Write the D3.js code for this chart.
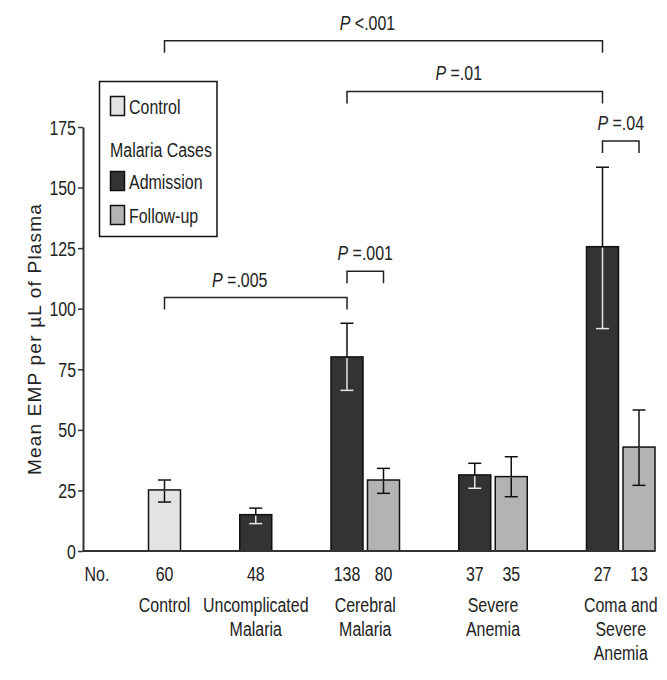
<!DOCTYPE html>
<html>
<head>
<meta charset="utf-8">
<script src="https://cdn.jsdelivr.net/npm/d3@7"></script>
<style>
  body { margin: 0; background: #fff; }
  text { font-family: "Liberation Sans", Arial, sans-serif; fill: #222; }
</style>
</head>
<body>
<svg id="chart" width="667" height="680"></svg>
<script>
// groups along the x axis, with their label lines
const groups = ["Control", "Uncomplicated Malaria", "Cerebral Malaria", "Severe Anemia", "Coma and Severe Anemia"];
const groupLines = [["Control"], ["Uncomplicated", "Malaria"], ["Cerebral", "Malaria"], ["Severe", "Anemia"], ["Coma and", "Severe", "Anemia"]];

// one entry per bar
const barGroup = ["Control", "Uncomplicated Malaria", "Cerebral Malaria", "Cerebral Malaria", "Severe Anemia", "Severe Anemia", "Coma and Severe Anemia", "Coma and Severe Anemia"];
const barSeries = ["Control", "Admission", "Admission", "Follow-up", "Admission", "Follow-up", "Admission", "Follow-up"];
const barN = [60, 48, 138, 80, 37, 35, 27, 13];
const barMean = [25.2, 15.0, 80.1, 29.3, 31.4, 30.7, 125.6, 42.9];
const barLow = [20.2, 11.3, 66.3, 23.8, 25.9, 22.4, 91.8, 27.1];
const barHigh = [29.3, 17.7, 94.0, 34.1, 36.2, 38.9, 158.4, 58.2];

const series = ["Control", "Admission", "Follow-up"];
const yTicks = [0, 25, 50, 75, 100, 125, 150, 175];

// comparisons: bar index from / to and the P label
const pFrom = [0, 2, 2, 0, 6];
const pTo = [6, 6, 3, 2, 7];
const pText = ["<.001", "=.01", "=.001", "=.005", "=.04"];

const svg = d3.select("#chart");

// x runs in "slot" units: one per bar plus a gap between groups
const gapUnits = 1.5;
const lastUnit = (barGroup.length - 1) + (groups.length - 1) * gapUnits;
const x = d3.scaleLinear().domain([0, lastUnit]).range([164.5, 639]);
const y = d3.scaleLinear().domain([0, 175]).range([551, 127]);
const color = d3.scaleOrdinal().domain(series).range(["#e3e3e3", "#333333", "#b3b3b3"]);

const barW = 32;
const squeeze = 0.76; // the figure uses a condensed face

// narrow text: a g that squeezes the glyphs horizontally
function label(parent, px, py, size, anchor) {
    return parent.append("g")
        .attr("transform", `translate(${px},${py}) scale(${squeeze},1)`)
        .append("text")
        .attr("text-anchor", anchor || "middle")
        .attr("font-size", size);
}

const bars = barN.map((n, i) => {
    const gi = groups.indexOf(barGroup[i]);
    return {
        group: barGroup[i], series: barSeries[i], n: n,
        mean: barMean[i], low: barLow[i], high: barHigh[i],
        cx: x(i + gi * gapUnits)
    };
});
const groupX = groups.map(g => d3.mean(bars.filter(b => b.group === g), b => b.cx));

// bars
svg.selectAll("rect.bar")
    .data(bars)
    .enter()
    .append("rect")
    .attr("class", "bar")
    .attr("x", d => d.cx - barW / 2)
    .attr("y", d => y(d.mean))
    .attr("width", barW)
    .attr("height", d => y(0) - y(d.mean))
    .attr("fill", d => color(d.series))
    .attr("stroke", "#111")
    .attr("stroke-width", 1.5);

// error bars: black above the bar, light inside dark bars
const capW = 13;
const err = svg.append("g").attr("fill", "none").attr("stroke-width", 1.5);
bars.forEach(d => {
    const inner = d.series === "Admission" ? "#e6e6e6" : "#111";
    err.append("line").attr("x1", d.cx).attr("x2", d.cx).attr("y1", y(d.mean)).attr("y2", y(d.high)).attr("stroke", "#111");
    err.append("line").attr("x1", d.cx - capW / 2).attr("x2", d.cx + capW / 2).attr("y1", y(d.high)).attr("y2", y(d.high)).attr("stroke", "#111");
    err.append("line").attr("x1", d.cx).attr("x2", d.cx).attr("y1", y(d.mean) + 1).attr("y2", y(d.low)).attr("stroke", inner);
    err.append("line").attr("x1", d.cx - capW / 2).attr("x2", d.cx + capW / 2).attr("y1", y(d.low)).attr("y2", y(d.low)).attr("stroke", inner);
});

// y axis (labels drawn separately so they can be condensed)
const yAxis = svg.append("g")
    .attr("transform", "translate(83,0)")
    .call(d3.axisLeft(y).tickValues(yTicks).tickSize(5).tickSizeOuter(0).tickFormat(""));
yAxis.select(".domain").attr("stroke", "#333").attr("stroke-width", 2);
yAxis.selectAll(".tick line").attr("stroke", "#333").attr("stroke-width", 1.5);
yTicks.forEach(t => {
    label(svg, 76, y(t), 21, "end")
        .attr("dy", "0.36em")
        .attr("fill", "#333")
        .text(t);
});

// baseline, out to the edge of the last bar
svg.append("line")
    .attr("x1", 83).attr("x2", bars[bars.length - 1].cx + barW / 2)
    .attr("y1", y(0)).attr("y2", y(0))
    .attr("stroke", "#333").attr("stroke-width", 2);

// y title
svg.append("text")
    .attr("transform", `translate(41,${(y(0) + y(175)) / 2}) rotate(-90)`)
    .attr("text-anchor", "middle")
    .attr("font-size", 19)
    .attr("letter-spacing", 1.2)
    .text("Mean EMP per \u00b5L of Plasma");

// counts
label(svg, 97, 581, 21).text("No.");
bars.forEach(d => {
    label(svg, d.cx, 581, 21).text(d.n);
});

// group names
groups.forEach((g, i) => {
    groupLines[i].forEach((line, j) => {
        label(svg, groupX[i], 612 + j * 24, 21).text(line);
    });
});

// significance brackets (heights in y units)
const pLevel = [210.6, 189.7, 115.5, 104.6, 169.2];
const drop = 12;
pFrom.forEach((a, i) => {
    const x1 = bars[a].cx, x2 = bars[pTo[i]].cx, ly = y(pLevel[i]);
    svg.append("path")
        .attr("d", `M${x1},${ly + drop}V${ly}H${x2}V${ly + drop}`)
        .attr("fill", "none")
        .attr("stroke", "#222")
        .attr("stroke-width", 1.5);
    // long brackets carry their label a little left of centre
    const shift = x2 - x1 > 100 ? -16 : 0;
    const t = label(svg, (x1 + x2) / 2 + shift, ly - 11, 21);
    t.append("tspan").attr("font-style", "italic").text("P");
    t.append("tspan").text(" " + pText[i]);
});

// legend
const legend = svg.append("g");
legend.append("rect")
    .attr("x", 99.5).attr("y", 81.5)
    .attr("width", 117.5).attr("height", 155)
    .attr("fill", "#fff")
    .attr("stroke", "#111")
    .attr("stroke-width", 1.5);
const legendRows = [
    { label: "Control", key: "Control", cy: 106 },
    { label: "Malaria Cases", key: null, cy: 149 },
    { label: "Admission", key: "Admission", cy: 181 },
    { label: "Follow-up", key: "Follow-up", cy: 215 }
];
legendRows.forEach(r => {
    if (r.key) {
        legend.append("rect")
            .attr("x", 110.5).attr("y", r.cy - 9.5)
            .attr("width", 14).attr("height", 19)
            .attr("fill", color(r.key))
            .attr("stroke", "#111")
            .attr("stroke-width", 1.5);
    }
    label(legend, r.key ? 129 : 110, r.cy, 21, "start")
        .attr("dy", "0.36em")
        .text(r.label);
});
</script>
</body>
</html>
